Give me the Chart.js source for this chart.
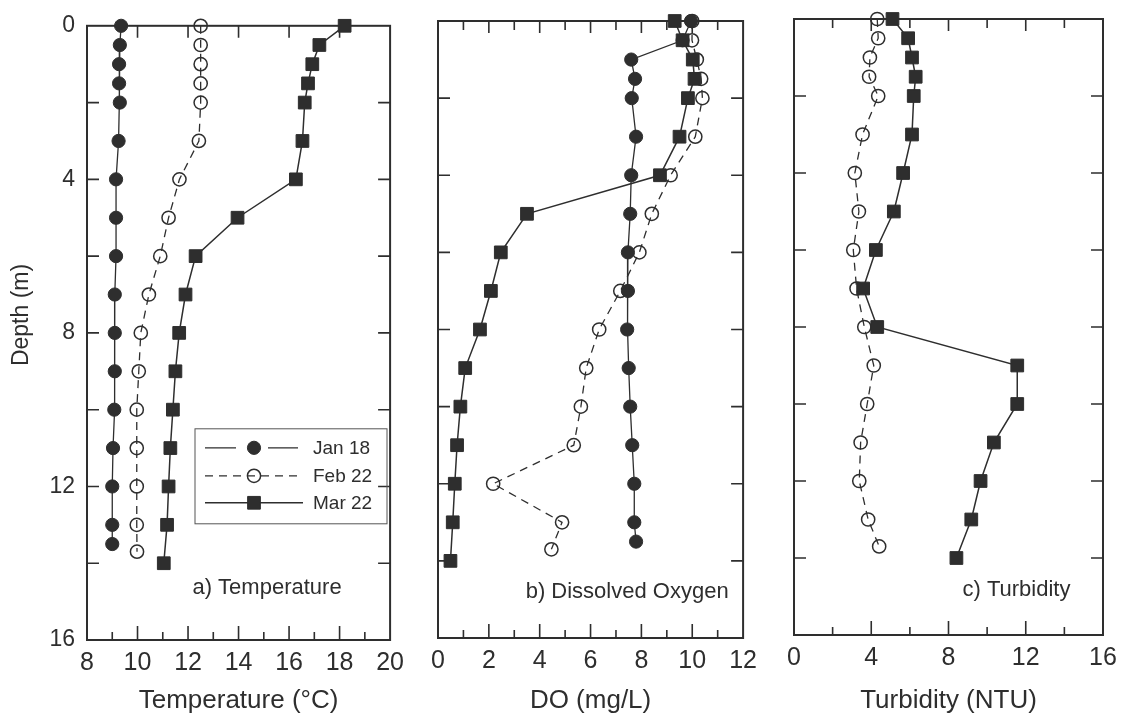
<!DOCTYPE html>
<html>
<head>
<meta charset="utf-8">
<script src="https://cdn.jsdelivr.net/npm/chart.js@4.4.1/dist/chart.umd.min.js"></script>
<style>
html,body{margin:0;padding:0;background:#fff;}
#wrap{position:relative;width:1125px;height:718px;overflow:hidden;background:#fff;}
.panel{position:absolute;top:0;height:718px;}
canvas{display:block;}
</style>
</head>
<body>
<div id="wrap">
  <div class="panel" style="left:0;width:412px"><canvas id="ca" width="412" height="718"></canvas></div>
  <div class="panel" style="left:415px;width:350px"><canvas id="cb" width="350" height="718"></canvas></div>
  <div class="panel" style="left:765px;width:360px"><canvas id="cc" width="360" height="718"></canvas></div>
</div>
<script>
// ---------------- data ----------------
const depthJan = [0, 0.5, 1, 1.5, 2, 3, 4, 5, 6, 7, 8, 9, 10, 11, 12, 13, 13.5];
const depthFeb = [0, 0.5, 1, 1.5, 2, 3, 4, 5, 6, 7, 8, 9, 10, 11, 12, 13, 13.7];
const depthMar = [0, 0.5, 1, 1.5, 2, 3, 4, 5, 6, 7, 8, 9, 10, 11, 12, 13, 14];

const tempJan = [9.35, 9.3, 9.27, 9.27, 9.3, 9.25, 9.15, 9.15, 9.15, 9.1, 9.1, 9.1, 9.08, 9.03, 9.0, 9.0, 9.0];
const tempFeb = [12.5, 12.5, 12.5, 12.5, 12.5, 12.43, 11.66, 11.23, 10.9, 10.45, 10.13, 10.05, 9.97, 9.97, 9.97, 9.97, 9.98];
const tempMar = [18.2, 17.2, 16.92, 16.75, 16.62, 16.53, 16.27, 13.96, 12.3, 11.9, 11.65, 11.5, 11.4, 11.3, 11.23, 11.17, 11.04];

const doJan = [9.95, 9.62, 7.6, 7.75, 7.62, 7.79, 7.6, 7.56, 7.47, 7.47, 7.44, 7.5, 7.56, 7.64, 7.72, 7.72, 7.79];
const doFeb = [10.0, 9.99, 10.18, 10.35, 10.4, 10.12, 9.15, 8.41, 7.92, 7.17, 6.34, 5.83, 5.62, 5.34, 2.17, 4.88, 4.46];
const doMar = [9.31, 9.62, 10.02, 10.09, 9.83, 9.5, 8.73, 3.5, 2.47, 2.08, 1.65, 1.07, 0.88, 0.75, 0.66, 0.58, 0.49];

const turbFeb = [4.31, 4.36, 3.93, 3.89, 4.36, 3.55, 3.15, 3.36, 3.07, 3.24, 3.64, 4.13, 3.79, 3.45, 3.38, 3.84, 4.41];
const turbMar = [5.1, 5.91, 6.11, 6.3, 6.2, 6.11, 5.65, 5.17, 4.24, 3.58, 4.31, 11.56, 11.56, 10.35, 9.66, 9.18, 8.41];

const seriesNames = ['Jan 18', 'Feb 22', 'Mar 22'];
const panelLabels = ['a) Temperature', 'b) Dissolved Oxygen', 'c) Turbidity'];
const axisTitles = ['Temperature (\u00B0C)', 'DO (mg/L)', 'Turbidity (NTU)'];
const depthTitle = 'Depth (m)';
const depthRange = [0, 16];
const depthTickStep = 4;

// ---------------- styling ----------------
const INK = '#2e2e2e';
const FONT = '"Liberation Sans", Arial, Helvetica, sans-serif';
Chart.defaults.font.family = FONT;
Chart.defaults.color = INK;

const STYLE = {
  jan: { borderColor: INK, borderWidth: 1.3, pointStyle: 'circle', pointRadius: 6.6,
         pointBackgroundColor: INK, pointBorderColor: INK, pointBorderWidth: 1, order: 1 },
  feb: { borderColor: INK, borderWidth: 1.3, borderDash: [8, 6], pointStyle: 'circle', pointRadius: 6.6,
         pointBackgroundColor: 'rgba(255,255,255,0)', pointBorderColor: INK, pointBorderWidth: 1.5, order: 2 },
  mar: { borderColor: INK, borderWidth: 1.5, pointStyle: 'rect', pointRadius: 9,
         pointBackgroundColor: INK, pointBorderColor: INK, pointBorderWidth: 1, order: 0 }
};

function pts(depths, vals) { return depths.map((d, i) => ({ x: vals[i], y: d })); }
function ds(name, key, depths, vals) {
  return Object.assign({ label: name, data: pts(depths, vals), showLine: true, tension: 0,
    clip: false, pointHoverRadius: 0 }, STYLE[key]);
}

function decor(cfg) {
  return {
    id: 'decor',
    beforeDatasetsDraw(chart) {
      const { ctx, chartArea: a, scales: { x, y } } = chart;
      ctx.save();
      ctx.strokeStyle = INK;
      ctx.lineWidth = 2;
      ctx.strokeRect(a.left, a.top, a.right - a.left, a.bottom - a.top);
      ctx.lineWidth = 1.6;
      ctx.beginPath();
      for (let v = x.min + cfg.xMinor; v < x.max - 1e-6; v += cfg.xMinor) {
        const px = x.getPixelForValue(v);
        const major = Math.abs(v / cfg.xMajor - Math.round(v / cfg.xMajor)) < 1e-6;
        const lb = major ? 14 : 8;
        ctx.moveTo(px, a.bottom); ctx.lineTo(px, a.bottom - lb);
        if (!(cfg.topMajorOnly && !major)) {
          const lt = major ? 12 : 9;
          ctx.moveTo(px, a.top); ctx.lineTo(px, a.top + lt);
        }
      }
      for (let d = 2; d < depthRange[1]; d += 2) {
        const py = y.getPixelForValue(d);
        ctx.moveTo(a.left, py); ctx.lineTo(a.left + 12, py);
        ctx.moveTo(a.right, py); ctx.lineTo(a.right - 12, py);
      }
      ctx.stroke();
      ctx.restore();
    },
    afterDraw(chart) {
      const { ctx, chartArea: a } = chart;
      ctx.save();
      ctx.fillStyle = INK;
      ctx.font = '22px ' + FONT;
      ctx.textAlign = 'center';
      ctx.textBaseline = 'middle';
      ctx.fillText(cfg.label, a.left + cfg.lx * (a.right - a.left), a.top + cfg.ly * (a.bottom - a.top));
      if (cfg.yTitle) {
        ctx.save();
        ctx.translate(22, 315);
        ctx.rotate(-Math.PI / 2);
        ctx.font = '23px ' + FONT;
        ctx.fillText(depthTitle, 0, 0);
        ctx.restore();
      }
      if (cfg.legend) {
        const bx = a.left + 108, by = a.top + 403, bw = 192, bh = 95;
        ctx.strokeStyle = '#555';
        ctx.lineWidth = 1;
        ctx.strokeRect(bx, by, bw, bh);
        const rows = [19, 47, 74];
        const keys = ['jan', 'feb', 'mar'];
        keys.forEach((k, i) => {
          const st = STYLE[k];
          const yy = by + rows[i];
          const mx = bx + 59;
          ctx.save();
          ctx.strokeStyle = st.borderColor;
          ctx.lineWidth = st.borderWidth;
          ctx.setLineDash(st.borderDash || []);
          ctx.beginPath();
          if (k === 'jan') {
            ctx.moveTo(bx + 10, yy); ctx.lineTo(bx + 41, yy);
            ctx.moveTo(bx + 73, yy); ctx.lineTo(bx + 103, yy);
          } else if (k === 'feb') {
            ctx.moveTo(bx + 10, yy); ctx.lineTo(bx + 103, yy);
          } else {
            ctx.moveTo(bx + 10, yy); ctx.lineTo(bx + 108, yy);
          }
          ctx.stroke();
          ctx.setLineDash([]);
          ctx.fillStyle = st.pointBackgroundColor;
          ctx.strokeStyle = st.pointBorderColor;
          ctx.lineWidth = st.pointBorderWidth;
          Chart.helpers.drawPoint(ctx, { pointStyle: st.pointStyle, radius: st.pointRadius,
            rotation: 0, borderWidth: st.pointBorderWidth }, mx, yy);
          ctx.restore();
          ctx.fillStyle = INK;
          ctx.font = '19px ' + FONT;
          ctx.textAlign = 'left';
          ctx.textBaseline = 'middle';
          ctx.fillText(seriesNames[i], bx + 118, yy + 1);
        });
      }
      ctx.restore();
    }
  };
}

function makePanel(id, cfg) {
  return new Chart(document.getElementById(id), {
    type: 'scatter',
    data: { datasets: cfg.datasets },
    options: {
      responsive: false,
      animation: false,
      events: [],
      layout: { padding: cfg.pad },
      plugins: { legend: { display: false }, tooltip: { enabled: false } },
      scales: {
        x: {
          type: 'linear', position: 'bottom', min: cfg.xMin, max: cfg.xMax,
          grid: { display: false, drawTicks: false }, border: { display: false },
          ticks: { stepSize: cfg.xStep, padding: 8, color: INK, font: { size: 25 }, maxRotation: 0 },
          title: { display: true, text: cfg.title, color: INK, font: { size: 26 }, padding: { top: 0, bottom: 2 } },
          afterFit: s => { s.height = cfg.xHeight; }
        },
        y: {
          type: 'linear', position: 'left', reverse: true, min: depthRange[0], max: depthRange[1],
          display: !!cfg.yLabels,
          grid: { display: false, drawTicks: false }, border: { display: false },
          ticks: { stepSize: depthTickStep, padding: 12, color: INK, font: { size: 23 } },
          afterFit: s => { s.width = cfg.yWidth || 0; }
        }
      }
    },
    plugins: [decor(cfg)]
  });
}

makePanel('ca', {
  xMin: 8, xMax: 20, xStep: 2, xMinor: 1, xMajor: 2, topMajorOnly: true,
  title: axisTitles[0], label: panelLabels[0], lx: 0.594, ly: 0.916,
  pad: { left: 0, right: 17, top: 22, bottom: 0 }, xHeight: 78, yLabels: true, yWidth: 87,
  yTitle: true, legend: true,
  datasets: [ds(seriesNames[0], 'jan', depthJan, tempJan), ds(seriesNames[1], 'feb', depthFeb, tempFeb),
             ds(seriesNames[2], 'mar', depthMar, tempMar)]
});
makePanel('cb', {
  xMin: 0, xMax: 12, xStep: 2, xMinor: 1, xMajor: 2, topMajorOnly: false,
  title: axisTitles[1], label: panelLabels[1], lx: 0.62, ly: 0.925,
  pad: { left: 23, right: 17, top: 21, bottom: 0 }, xHeight: 80,
  datasets: [ds(seriesNames[0], 'jan', depthJan, doJan), ds(seriesNames[1], 'feb', depthFeb, doFeb),
             ds(seriesNames[2], 'mar', depthMar, doMar)]
});
makePanel('cc', {
  xMin: 0, xMax: 16, xStep: 4, xMinor: 2, xMajor: 4, topMajorOnly: false,
  title: axisTitles[2], label: panelLabels[2], lx: 0.72, ly: 0.927,
  pad: { left: 29, right: 22, top: 19, bottom: 0 }, xHeight: 83,
  datasets: [ds(seriesNames[1], 'feb', depthFeb, turbFeb), ds(seriesNames[2], 'mar', depthMar, turbMar)]
});
</script>
</body>
</html>
